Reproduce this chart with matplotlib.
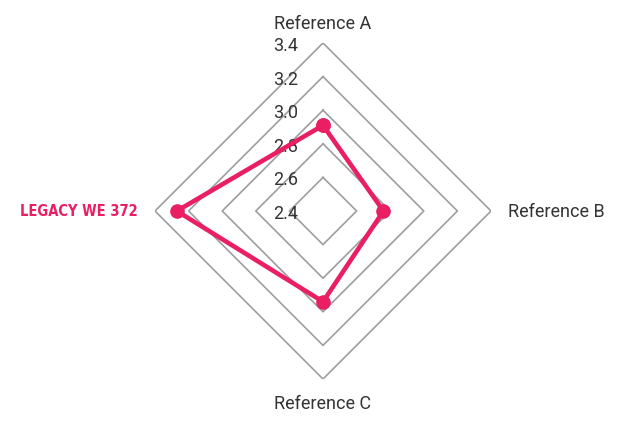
import numpy as np
import matplotlib
matplotlib.use('Agg')
import matplotlib.pyplot as plt

# Datos del radar
categorias = ['Reference A', 'Reference B', 'Reference C', 'LEGACY WE 372']
valores = [2.91, 2.76, 2.94, 3.27]
niveles = [2.4, 2.6, 2.8, 3.0, 3.2, 3.4]
etiquetas_niveles = ['2.4', '2.6', '2.8', '3.0', '3.2', '3.4']

ROSA = '#e91e63'
GRIS = '#9e9e9e'
TEXTO = '#333333'

fig = plt.figure(figsize=(6.31, 4.27), dpi=100)
ax = fig.add_axes([155 / 631, 47 / 427, 336 / 631, 336 / 427], projection='polar')
ax.set_theta_offset(np.pi / 2)
ax.set_theta_direction(-1)
ax.set_ylim(niveles[0], niveles[-1])
ax.grid(False)
ax.spines['polar'].set_visible(False)
ax.set_xticks([])
ax.set_yticks([])
ax.patch.set_alpha(0)

angulos = np.linspace(0, 2 * np.pi, len(categorias), endpoint=False)
cierre = np.append(angulos, angulos[0])

# Anillos poligonales (rombos)
for nivel in niveles[1:]:
    ax.plot(cierre, [nivel] * len(cierre), color=GRIS, linewidth=1.2, zorder=1)

# Etiquetas de la escala
for nivel, txt in zip(niveles, etiquetas_niveles):
    ax.annotate(txt, xy=(0, nivel), xytext=(-37, -2), textcoords='offset pixels',
                ha='center', va='center', fontsize=13, color=TEXTO,
                family='Roboto', zorder=2)

# Serie
vals = valores + valores[:1]
ax.plot(cierre, vals, color=ROSA, linewidth=3.3, marker='o', markersize=9.5,
        zorder=3, clip_on=False)

# Etiquetas de categorías
ax.text(angulos[0], 3.52, categorias[0], ha='center', va='center',
        fontsize=13, color=TEXTO, family='Roboto')
ax.text(angulos[1], 3.50, categorias[1], ha='left', va='center',
        fontsize=13, color=TEXTO, family='Roboto')
ax.text(angulos[2], 3.545, categorias[2], ha='center', va='center',
        fontsize=13, color=TEXTO, family='Roboto')
ax.text(angulos[3], 3.50, categorias[3], ha='right', va='center',
        fontsize=10.5, color=ROSA, family='DejaVu Sans', fontstretch='condensed',
        fontweight='bold')

plt.savefig('out.png', dpi=100)
